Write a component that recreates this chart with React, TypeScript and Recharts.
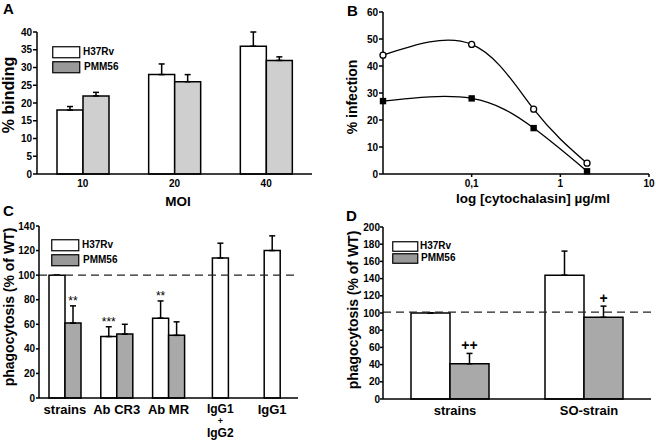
import React from 'react';
import {
  BarChart,
  Bar,
  XAxis,
  YAxis,
  ErrorBar,
  Legend,
  LineChart,
  Line,
  ReferenceLine,
  LabelList,
} from 'recharts';

const FONT = 'Arial, "Liberation Sans", sans-serif';

// A: binding vs MOI
const moiLabels = ['10', '20', '40'];
const bindH37 = [18, 28, 36];
const bindH37Err = [1, 3, 4];
const bindPmm = [22, 26, 32];
const bindPmmErr = [1, 2, 1];

// B: infection vs cytochalasin dose
const cytoDose = [0.01, 0.1, 0.5, 2];
const infH37 = [44, 48, 24, 4];
const infPmm = [27, 28, 17, 1];

// C: phagocytosis with blocking antibodies
const cGroups = ['strains', 'Ab CR3', 'Ab MR', 'IgG1 + IgG2', 'IgG1'];
const cH37 = [100, 50, 65, null, null];
const cH37Err = [0, 8, 14, null, null];
const cH37Sig = ['', '***', '**', '', ''];
const cPmm = [61, 52, 51, null, null];
const cPmmErr = [14, 8, 11, null, null];
const cPmmSig = ['**', '', '', '', ''];
const cCtrl = [null, null, null, 114, 120];
const cCtrlErr = [null, null, null, 12, 12];

// D: phagocytosis, strains vs SO-strain
const dGroups = ['strains', 'SO-strain'];
const dH37 = [100, 144];
const dH37Err = [0, 28];
const dPmm = [41, 95];
const dPmmErr = [12, 13];
const dPmmSig = ['++', '+'];

const up = (e: number | null) => [0, e ?? 0];

const aData = moiLabels.map((name, i) => ({
  name,
  h: bindH37[i],
  hErr: up(bindH37Err[i]),
  p: bindPmm[i],
  pErr: up(bindPmmErr[i]),
}));

const bData = cytoDose.map((dose, i) => ({ dose, h: infH37[i], p: infPmm[i] }));

const cData = cGroups.map((name, i) => ({
  name,
  h: cH37[i],
  hErr: up(cH37Err[i]),
  hSig: cH37Sig[i],
  p: cPmm[i],
  pErr: up(cPmmErr[i]),
  pSig: cPmmSig[i],
  c: cCtrl[i],
  cErr: up(cCtrlErr[i]),
}));

const dData = dGroups.map((name, i) => ({
  name,
  h: dH37[i],
  hErr: up(dH37Err[i]),
  p: dPmm[i],
  pErr: up(dPmmErr[i]),
  pSig: dPmmSig[i],
}));

const numTick = { fill: '#000', fontSize: 10, fontWeight: 700, fontFamily: FONT };
const axisLine = { stroke: '#000', strokeWidth: 1.5 };

// category tick, "a + b" is stacked on three lines (a bit smaller so it fits)
const CatTick = (props: any) => {
  const { x, y, payload, fontSize, base, dx = 0 } = props;
  const parts = String(payload.value).split(' + ');
  const stacked = parts.length === 2;
  const lines = stacked ? [parts[0], '+', parts[1]] : parts;
  const offs = stacked ? [-1.5, 9.5, 22.5] : [0];
  const sizes = stacked ? [fontSize - 1, 9, fontSize - 1] : [fontSize];
  return (
    <g>
      {lines.map((l: string, i: number) => (
        <text
          key={i}
          x={x + dx}
          y={y + base + offs[i]}
          textAnchor="middle"
          fill="#000"
          fontSize={sizes[i]}
          fontWeight={700}
          fontFamily={FONT}
        >
          {l}
        </text>
      ))}
    </g>
  );
};

// significance marks sit just above the error whisker
const sigLabel =
  (vals: (number | null)[], errs: (number | null)[], fontSize: number, bold: boolean, lift: number) =>
  (props: any) => {
    const vb = props.viewBox ?? {};
    const x = props.x ?? vb.x;
    const y = props.y ?? vb.y;
    const width = props.width ?? vb.width;
    const height = props.height ?? vb.height;
    const { value, index } = props;
    const v = vals[index];
    if (!value || !v) return null;
    const k = height / v;
    const top = y - (errs[index] ?? 0) * k;
    return (
      <text
        x={x + width / 2}
        y={top - lift}
        textAnchor="middle"
        fill="#000"
        fontSize={fontSize}
        fontWeight={bold ? 700 : 400}
        fontFamily={FONT}
      >
        {value}
      </text>
    );
  };

const legendContent =
  (w: number, h: number, gap: number, tx: number, ty: number, gray: string) => () =>
    (
      <svg width={110} height={h * 2 + gap + 4} style={{ overflow: 'visible', display: 'block' }}>
        <rect x={0.75} y={0.75} width={w} height={h} fill="#fff" stroke="#000" strokeWidth={1.2} />
        <rect x={0.75} y={h + gap + 0.75} width={w} height={h} fill={gray} stroke="#000" strokeWidth={1.2} />
        <text x={tx} y={h / 2 + ty} fontSize={10} fontWeight={700} fontFamily={FONT} fill="#000">
          H37Rv
        </text>
        <text x={tx + 1} y={h + gap + h / 2 + ty} fontSize={10} fontWeight={700} fontFamily={FONT} fill="#000">
          PMM56
        </text>
      </svg>
    );

const OpenDot = (p: any) =>
  p.cx == null ? null : (
    <circle key={p.index} cx={p.cx} cy={p.cy} r={3} fill="#fff" stroke="#000" strokeWidth={1.3} />
  );
const SquareDot = (p: any) =>
  p.cx == null ? null : <rect key={p.index} x={p.cx - 3.2} y={p.cy - 3.2} width={6.4} height={6.4} fill="#000" />;

const errProps = { width: 3, stroke: '#000', strokeWidth: 1.5, direction: 'y' as const, isAnimationActive: false };
const barStroke = { stroke: '#000', strokeWidth: 1.5, isAnimationActive: false };

const titleStyle = { fontFamily: FONT, fontWeight: 700, fill: '#000' };

export default function App() {
  return (
    <div style={{ position: 'absolute', left: 0, top: 0, width: 656, height: 440, background: '#fff' }}>
      {/* A */}
      <div style={{ position: 'absolute', left: 0, top: 0 }}>
        <BarChart width={328} height={220} data={aData} margin={{ top: 32, right: 16, bottom: 0, left: 7 }} barGap={0} barSize={26}>
          <XAxis
            dataKey="name"
            height={46}
            interval={0}
            tickLine={false}
            tickSize={0}
            tickMargin={0}
            axisLine={axisLine}
            tick={<CatTick fontSize={10} base={13} />}
          />
          <YAxis
            width={30}
            domain={[0, 40]}
            ticks={[0, 5, 10, 15, 20, 25, 30, 35, 40]}
            tick={numTick}
            tickSize={4}
            tickMargin={1}
            axisLine={axisLine}
            tickLine={axisLine}
          />
          <Legend
            layout="vertical"
            align="center"
            verticalAlign="middle"
            content={legendContent(27, 11, 4, 31, 3.8, '#999')}
            wrapperStyle={{ left: 52, top: 46, width: 110, height: 30 }}
          />
          <Bar dataKey="h" fill="#fff" {...barStroke}>
            <ErrorBar dataKey="hErr" {...errProps} />
          </Bar>
          <Bar dataKey="p" fill="#cfcfcf" {...barStroke}>
            <ErrorBar dataKey="pErr" {...errProps} />
          </Bar>
        </BarChart>
      </div>

      {/* B */}
      <div style={{ position: 'absolute', left: 328, top: 0 }}>
        <LineChart width={328} height={220} data={bData} margin={{ top: 12, right: 7, bottom: 0, left: 25 }}>
          <XAxis
            dataKey="dose"
            type="number"
            scale="log"
            domain={[0.01, 10]}
            ticks={[0.1, 1, 10]}
            tickFormatter={(v: number) => (v === 0.1 ? '0,1' : String(v))}
            height={46}
            tick={numTick}
            tickSize={3}
            tickMargin={3}
            axisLine={axisLine}
            tickLine={axisLine}
          />
          <YAxis
            width={30}
            domain={[0, 60]}
            ticks={[0, 10, 20, 30, 40, 50, 60]}
            tick={numTick}
            tickSize={4}
            tickMargin={1}
            axisLine={axisLine}
            tickLine={axisLine}
          />
          <Line dataKey="h" type="natural" stroke="#000" strokeWidth={1.3} dot={<OpenDot />} isAnimationActive={false} />
          <Line dataKey="p" type="natural" stroke="#000" strokeWidth={1.3} dot={<SquareDot />} isAnimationActive={false} />
        </LineChart>
      </div>

      {/* C */}
      <div style={{ position: 'absolute', left: 0, top: 220 }}>
        <BarChart width={328} height={220} data={cData} margin={{ top: 6, right: 30, bottom: 0, left: 9 }} barGap={0} barSize={16}>
          <XAxis
            dataKey="name"
            height={42}
            interval={0}
            tickLine={false}
            tickSize={0}
            tickMargin={0}
            axisLine={axisLine}
            tick={<CatTick fontSize={13} base={16} />}
          />
          <XAxis xAxisId={1} dataKey="name" hide />
          <YAxis
            width={30}
            domain={[0, 140]}
            ticks={[0, 20, 40, 60, 80, 100, 120, 140]}
            tick={numTick}
            tickSize={3}
            tickMargin={1}
            axisLine={axisLine}
            tickLine={axisLine}
          />
          <Legend
            layout="vertical"
            align="center"
            verticalAlign="middle"
            content={legendContent(27, 11, 4, 31, 3.8, '#999')}
            wrapperStyle={{ left: 51, top: 19, width: 110, height: 30 }}
          />
          <Bar dataKey="h" fill="#fff" {...barStroke}>
            <ErrorBar dataKey="hErr" {...errProps} />
            <LabelList dataKey="hSig" content={sigLabel(cH37, cH37Err, 12, false, 1)} />
          </Bar>
          <Bar dataKey="p" fill="#a9a9a9" {...barStroke}>
            <ErrorBar dataKey="pErr" {...errProps} />
            <LabelList dataKey="pSig" content={sigLabel(cPmm, cPmmErr, 12, false, 1)} />
          </Bar>
          <Bar dataKey="c" xAxisId={1} fill="#fff" {...barStroke}>
            <ErrorBar dataKey="cErr" {...errProps} />
          </Bar>
          <ReferenceLine y={100} stroke="#222" strokeWidth={1.4} strokeDasharray="8 5" />
        </BarChart>
      </div>

      {/* D */}
      <div style={{ position: 'absolute', left: 328, top: 220 }}>
        <BarChart width={328} height={220} data={dData} margin={{ top: 7, right: 5, bottom: 0, left: 25 }} barGap={0} barSize={39}>
          <XAxis
            dataKey="name"
            height={41}
            interval={0}
            tickLine={false}
            tickSize={0}
            tickMargin={0}
            axisLine={axisLine}
            tick={<CatTick fontSize={13} base={16} dx={5} />}
          />
          <YAxis
            width={30}
            domain={[0, 200]}
            ticks={[0, 20, 40, 60, 80, 100, 120, 140, 160, 180, 200]}
            tick={numTick}
            tickSize={3}
            tickMargin={0}
            axisLine={axisLine}
            tickLine={axisLine}
          />
          <Legend
            layout="vertical"
            align="center"
            verticalAlign="middle"
            content={legendContent(25, 9.5, 2.5, 28, 3.5, '#999')}
            wrapperStyle={{ left: 64, top: 21, width: 110, height: 26 }}
          />
          <Bar dataKey="h" fill="#fff" {...barStroke}>
            <ErrorBar dataKey="hErr" {...errProps} />
          </Bar>
          <Bar dataKey="p" fill="#a9a9a9" {...barStroke}>
            <ErrorBar dataKey="pErr" {...errProps} />
            <LabelList dataKey="pSig" content={sigLabel(dPmm, dPmmErr, 14, true, 3)} />
          </Bar>
          <ReferenceLine y={101} stroke="#222" strokeWidth={1.4} strokeDasharray="8 5" />
        </BarChart>
      </div>

      {/* panel letters and axis titles */}
      <svg width={656} height={440} style={{ position: 'absolute', left: 0, top: 0, pointerEvents: 'none' }}>
        <text x={3} y={14} fontSize={15} {...titleStyle}>A</text>
        <text x={347} y={16} fontSize={15} {...titleStyle}>B</text>
        <text x={3} y={216} fontSize={15} {...titleStyle}>C</text>
        <text x={346} y={221} fontSize={15} {...titleStyle}>D</text>

        <text transform="translate(14,95) rotate(-90)" textAnchor="middle" fontSize={16} {...titleStyle}>% binding</text>
        <text x={178} y={206} textAnchor="middle" fontSize={13.5} {...titleStyle}>MOI</text>

        <text transform="translate(357,97) rotate(-90)" textAnchor="middle" fontSize={14} {...titleStyle}>% infection</text>
        <text x={533} y={203} textAnchor="middle" fontSize={13.5} {...titleStyle}>log [cytochalasin] µg/ml</text>

        <text transform="translate(14,307) rotate(-90)" textAnchor="middle" fontSize={14} {...titleStyle}>phagocytosis (% of WT)</text>
        <text transform="translate(358,310) rotate(-90)" textAnchor="middle" fontSize={14} {...titleStyle}>phagocytosis (% of WT)</text>
      </svg>
    </div>
  );
}
